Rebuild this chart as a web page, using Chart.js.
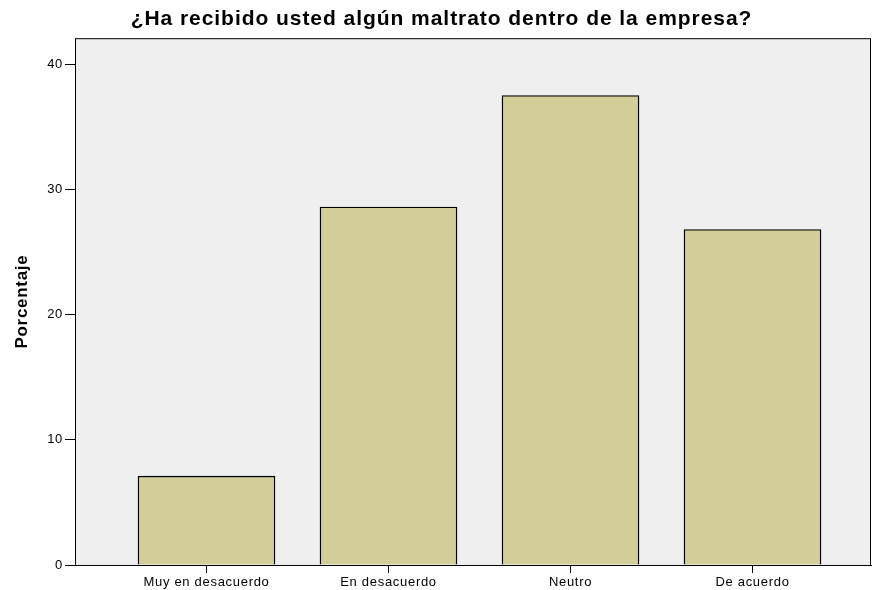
<!DOCTYPE html>
<html lang="es">
<head>
<meta charset="UTF-8">
<title>Maltrato</title>
<script src="https://cdn.jsdelivr.net/npm/chart.js"></script>
<style>
  body { margin: 0; background: #fff; }
</style>
</head>
<body>
<canvas id="grafico" width="872" height="590"></canvas>
<script>
const categorias = ["Muy en desacuerdo", "En desacuerdo", "Neutro", "De acuerdo"];
const porcentajes = [7.1, 28.6, 37.5, 26.8];
const ticksY = [0, 10, 20, 30, 40];

// fondo gris del area de datos y marco negro
const fondo = {
  id: 'fondo',
  beforeDraw(chart) {
    chart.ctx.letterSpacing = '0.7px';
    const tb = chart.titleBlock;
    if (tb && !tb._espaciado) {
      const orig = tb.draw;
      tb.draw = function () {
        chart.ctx.letterSpacing = '0.95px';
        orig.call(this);
        chart.ctx.letterSpacing = '0.7px';
      };
      tb._espaciado = true;
    }
  },
  beforeDatasetsDraw(chart) {
    const { ctx, chartArea: a } = chart;
    ctx.save();
    ctx.fillStyle = '#efefef';
    ctx.fillRect(a.left, a.top, a.right - a.left, a.bottom - a.top);
    ctx.restore();
  },
  afterDatasetsDraw(chart) {
    const { ctx, chartArea: a } = chart;
    ctx.save();
    ctx.strokeStyle = '#000';
    ctx.lineWidth = 1;
    ctx.strokeRect(a.left + 0.5, a.top + 0.5, a.right - a.left - 1, a.bottom - a.top);
    ctx.restore();
  }
};

new Chart(document.getElementById('grafico'), {
  type: 'bar',
  data: {
    datasets: [{
      data: porcentajes.map((v, i) => ({ x: i, y: v })),
      backgroundColor: '#d3ce98',
      borderColor: '#000',
      borderWidth: 1.4,
      barThickness: 137
    }]
  },
  options: {
    responsive: false,
    animation: false,
    layout: { padding: { left: 12, right: 1, top: 0, bottom: 0 } },
    plugins: {
      legend: { display: false },
      tooltip: { enabled: false },
      title: {
        display: true,
        text: '¿Ha recibido usted algún maltrato dentro de la empresa?',
        color: '#000',
        font: { family: 'Liberation Sans, Arial', size: 21, weight: 'bold' },
        padding: { top: 7, bottom: 6 }
      }
    },
    scales: {
      x: {
        type: 'linear',
        offset: false,
        min: -0.7225,
        max: 3.651,
        afterBuildTicks: s => { s.ticks = categorias.map((c, i) => ({ value: i })); },
        afterFit: s => { s.height = 25; },
        ticks: {
          callback: v => categorias[v],
          color: '#000',
          font: { family: 'Liberation Sans, Arial', size: 13 },
          padding: 2,
          maxRotation: 0
        },
        grid: { offset: false, drawOnChartArea: false, drawTicks: true, tickLength: 8, color: '#000' },
        border: { display: true, color: '#000' }
      },
      y: {
        min: 0,
        max: 42.08,
        afterBuildTicks: s => { s.ticks = ticksY.map(v => ({ value: v })); },
        afterFit: s => { s.width = 63; },
        ticks: {
          color: '#000',
          font: { family: 'Liberation Sans, Arial', size: 13 },
          padding: 2
        },
        grid: { drawOnChartArea: false, drawTicks: true, tickLength: 10, color: '#000' },
        border: { display: true, color: '#000' },
        title: {
          display: true,
          text: 'Porcentaje',
          color: '#000',
          font: { family: 'Liberation Sans, Arial', size: 17, weight: 'bold' },
          padding: 0
        }
      }
    }
  },
  plugins: [fondo]
});
</script>
</body>
</html>
